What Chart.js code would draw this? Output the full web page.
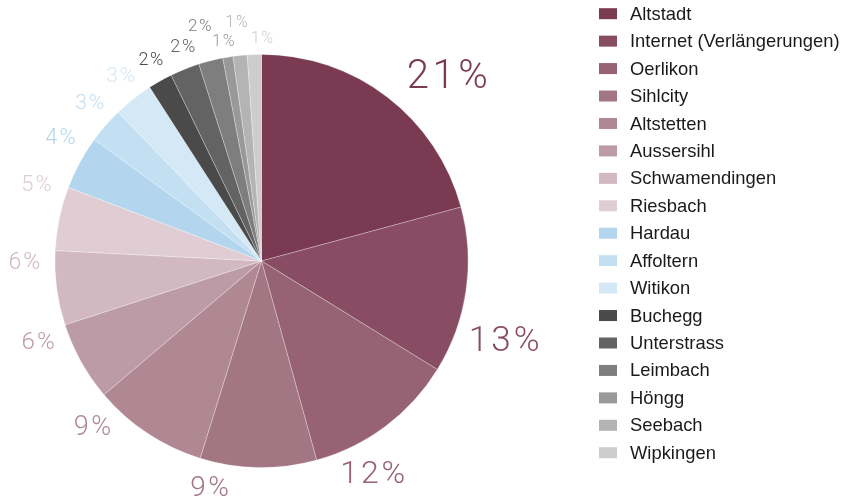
<!DOCTYPE html>
<html>
<head>
<meta charset="utf-8">
<script src="https://cdn.jsdelivr.net/npm/chart.js@4.4.1/dist/chart.umd.min.js"></script>
<style>
  html, body { margin: 0; padding: 0; background: #ffffff; }
  #wrap { width: 857px; height: 501px; position: relative; }
</style>
</head>
<body>
<div id="wrap"><canvas id="c" width="857" height="501"></canvas></div>
<script>
// ---- data ----
const categories = [
  "Altstadt", "Internet (Verlängerungen)", "Oerlikon", "Sihlcity", "Altstetten",
  "Aussersihl", "Schwamendingen", "Riesbach", "Hardau", "Affoltern", "Witikon",
  "Buchegg", "Unterstrass", "Leimbach", "Höngg", "Seebach", "Wipkingen"
];
const shares = [20.8, 13.0, 11.9, 9.1, 9.0, 6.2, 5.8, 5.0, 4.2, 2.8, 3.1, 1.9, 2.3, 1.9, 0.8, 1.1, 1.1];

// ---- styles ----
const sliceColors = [
  "#7a3a51", "#894d63", "#976273", "#a37683", "#b08893",
  "#bd9ba6", "#d1b8c1", "#dfcdd3", "#b3d6ee", "#c3dff2", "#d4e8f5",
  "#4a4a4a", "#636363", "#7e7e7e", "#999999", "#b4b4b4", "#cdcdcd"
];
const labelFontSizes = [40, 35, 32, 28, 27, 24, 23, 22, 22, 21, 21, 18, 18, 17, 16, 16, 16];
// per-label angular nudge (degrees, clockwise) and distance beyond the pie edge (px)
const labelAngleNudge = [7.8, 10.0, 9.3, 12.0, 12.0, 9.2, 7.2, 6.8, 3.0, 1.5, 1.1, 0.6, 1.6, -0.5, -0.5, 0, 2.1];
const labelGap = [55, 49, 33.5, 26, 30.5, 31, 30.5, 31, 29, 26.5, 26, 23.3, 21.5, 36, 16, 33.3, 16.5];

const pctLabels = {
  id: 'pctLabels',
  afterDatasetsDraw(chart) {
    const ctx = chart.ctx;
    const meta = chart.getDatasetMeta(0);
    ctx.save();
    ctx.textAlign = 'center';
    ctx.textBaseline = 'middle';
    meta.data.forEach((arc, i) => {
      const p = arc.getProps(['x', 'y', 'startAngle', 'endAngle', 'outerRadius'], true);
      const a = (p.startAngle + p.endAngle) / 2 + labelAngleNudge[i] * Math.PI / 180;
      const r = p.outerRadius + labelGap[i];
      const x = p.x + Math.cos(a) * r;
      const y = p.y + Math.sin(a) * r;
      const fs = labelFontSizes[i];
      const sp = fs * 0.09;
      ctx.font = '300 ' + fs + 'px Roboto, "Liberation Sans", sans-serif';
      if ('letterSpacing' in ctx) ctx.letterSpacing = sp.toFixed(2) + 'px';
      ctx.fillStyle = sliceColors[i];
      ctx.fillText(Math.round(chart.data.datasets[0].data[i]) + '%', x + sp / 2, y + fs * 0.04);
    });
    ctx.restore();
  }
};

const sideLegend = {
  id: 'sideLegend',
  afterDraw(chart) {
    const ctx = chart.ctx;
    ctx.save();
    ctx.textAlign = 'left';
    ctx.textBaseline = 'middle';
    ctx.font = '18.4px "Liberation Sans", Arial, sans-serif';
    if ('letterSpacing' in ctx) ctx.letterSpacing = '0px';
    chart.data.labels.forEach((lab, i) => {
      const cy = 13.7 + i * 27.44;
      ctx.fillStyle = sliceColors[i];
      ctx.fillRect(599, cy - 5.5, 18, 11);
      ctx.fillStyle = '#1a1a1a';
      ctx.fillText(lab, 630, cy + 1);
    });
    ctx.restore();
  }
};

new Chart(document.getElementById('c'), {
  type: 'pie',
  data: {
    labels: categories,
    datasets: [{
      data: shares,
      backgroundColor: sliceColors,
      borderColor: 'rgba(255,255,255,0.35)',
      borderWidth: 0.8
    }]
  },
  options: {
    responsive: false,
    devicePixelRatio: 1,
    animation: false,
    layout: { padding: { left: 54.5, right: 388.5, top: 54, bottom: 33 } },
    plugins: {
      legend: { display: false },
      tooltip: { enabled: false }
    }
  },
  plugins: [pctLabels, sideLegend]
});
</script>
</body>
</html>
